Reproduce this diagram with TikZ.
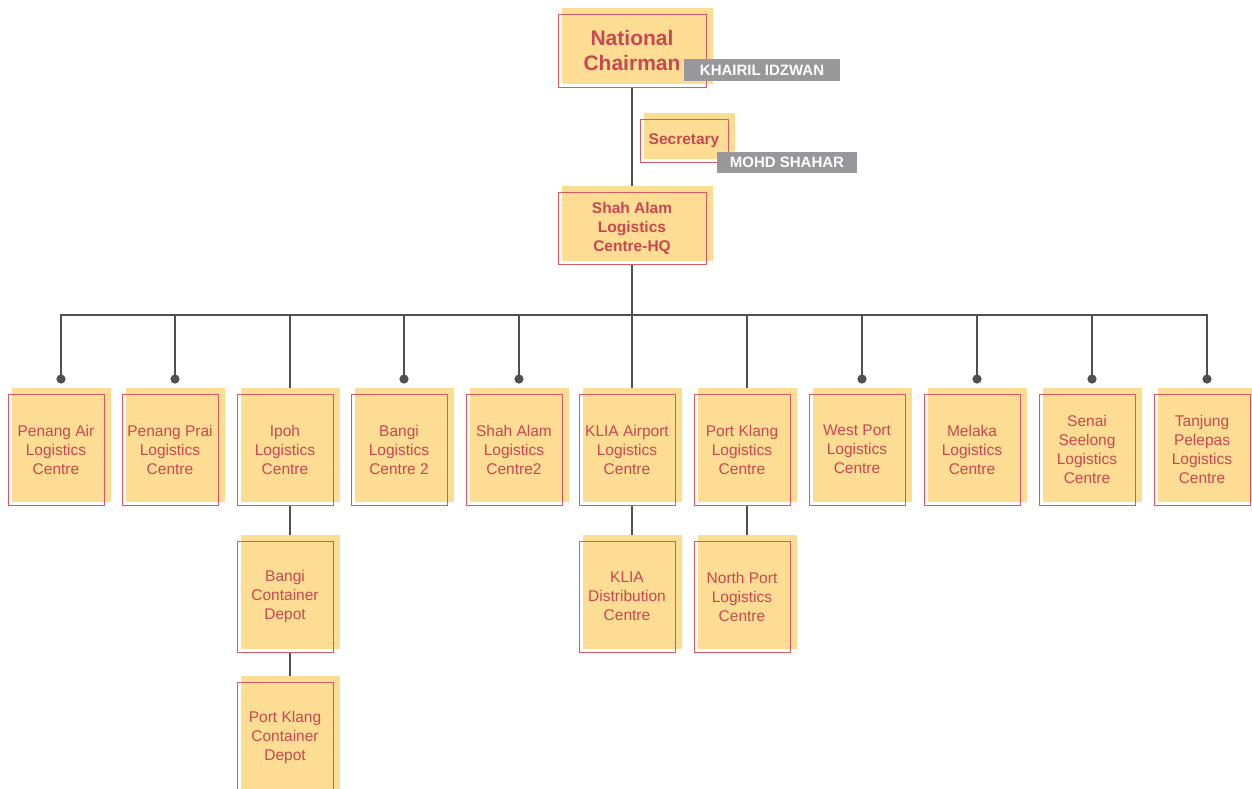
\documentclass[tikz,border=0pt]{standalone}
\usepackage{fontspec}
\setmainfont{Liberation Sans}
\usetikzlibrary{arrows.meta}
\pgfdeclarelayer{lines}
\pgfdeclarelayer{fills}
\pgfsetlayers{lines,fills,main}
\definecolor{boxfill}{RGB}{253,221,147}
\definecolor{boxline}{RGB}{212,90,102}
\definecolor{boxtext}{RGB}{200,72,82}
\definecolor{tagcol}{RGB}{152,152,156}
\definecolor{conncol}{RGB}{80,80,80}
\tikzset{
  obox/.style={draw=boxline, line width=0.9pt, text=boxtext, align=center, inner sep=0pt,
    font=\fontsize{15.5}{19}\selectfont},
  leafsize/.style={minimum width=96pt, minimum height=111pt},
  headfont/.style={font=\bfseries\fontsize{15.5}{19}\selectfont},
  bigfont/.style={font=\bfseries\fontsize{21}{25}\selectfont},
  tagbox/.style={fill=tagcol, text=white, font=\bfseries\fontsize{15}{18}\selectfont, inner sep=0pt},
  link/.style={draw=conncol, line width=2.5pt},
  dotlink/.style={link, -{Circle[length=9pt]}},
  backfill/.style={fill=boxfill},
}
\newcommand\orgbox[4]{%
  \node[obox,#2] (#1) at #3 {#4};
  \begin{pgfonlayer}{fills}
    \fill[backfill] ([shift={(4pt,6pt)}]#1.north west) rectangle ([shift={(6.5pt,3pt)}]#1.south east);
  \end{pgfonlayer}}
\begin{document}
\begin{tikzpicture}[x=1pt,y=-1pt]
\useasboundingbox (0,0) rectangle (1252,789);

% top
\orgbox{chair}{bigfont, minimum width=148pt, minimum height=73pt}{(632,50.5)}{National\\Chairman}
\orgbox{sec}{headfont, minimum width=88pt, minimum height=43pt}{(684,140.5)}{Secretary}
\orgbox{hq}{headfont, minimum width=148pt, minimum height=72pt}{(632,228)}{Shah Alam\\Logistics\\Centre-HQ}
\node[tagbox, minimum width=156pt, minimum height=22pt] (tagA) at (762,70) {KHAIRIL IDZWAN};
\node[tagbox, minimum width=140pt, minimum height=21pt] (tagB) at (787,162.5) {MOHD SHAHAR};

% leaves
\orgbox{L1}{leafsize}{(56,449.5)}{Penang Air\\Logistics\\Centre}
\orgbox{L2}{leafsize}{(170,449.5)}{Penang Prai\\Logistics\\Centre}
\orgbox{L3}{leafsize}{(285,449.5)}{Ipoh\\Logistics\\Centre}
\orgbox{L4}{leafsize}{(399,449.5)}{Bangi\\Logistics\\Centre 2}
\orgbox{L5}{leafsize}{(514,449.5)}{Shah Alam\\Logistics\\Centre2}
\orgbox{L6}{leafsize}{(627,449.5)}{KLIA Airport\\Logistics\\Centre}
\orgbox{L7}{leafsize}{(742,449.5)}{Port Klang\\Logistics\\Centre}
\orgbox{L8}{leafsize}{(857,449.5)}{West Port\\Logistics\\Centre}
\orgbox{L9}{leafsize}{(972,449.5)}{Melaka\\Logistics\\Centre}
\orgbox{L10}{leafsize}{(1087,449.5)}{Senai\\Seelong\\Logistics\\Centre}
\orgbox{L11}{leafsize}{(1202,449.5)}{Tanjung\\Pelepas\\Logistics\\Centre}

% children
\orgbox{C1}{leafsize}{(285,596.5)}{Bangi\\Container\\Depot}
\orgbox{C2}{leafsize}{(285,737.5)}{Port Klang\\Container\\Depot}
\orgbox{C3}{leafsize}{(627,596.5)}{KLIA\\Distribution\\Centre}
\orgbox{C4}{leafsize}{(742,596.5)}{North Port\\Logistics\\Centre}

% connectors
\begin{pgfonlayer}{lines}
\coordinate (bus) at (632,315);
\draw[link] (chair.south) -- (hq.north);
\draw[link] (hq.south) -- (bus);
\foreach \n in {L1,L2,L4,L5,L8,L9,L10,L11}{
  \draw[dotlink] (bus) -| ([xshift=5pt,yshift=10pt]\n.north);
}
\foreach \n in {L3,L6,L7}{
  \draw[link] (bus) -| ([xshift=5pt]\n.north);
}
\draw[link] ([xshift=5pt]L3.south) -- ([xshift=5pt]C1.north);
\draw[link] ([xshift=5pt]C1.south) -- ([xshift=5pt]C2.north);
\draw[link] ([xshift=5pt]L6.south) -- ([xshift=5pt]C3.north);
\draw[link] ([xshift=5pt]L7.south) -- ([xshift=5pt]C4.north);
\end{pgfonlayer}
\end{tikzpicture}
\end{document}
